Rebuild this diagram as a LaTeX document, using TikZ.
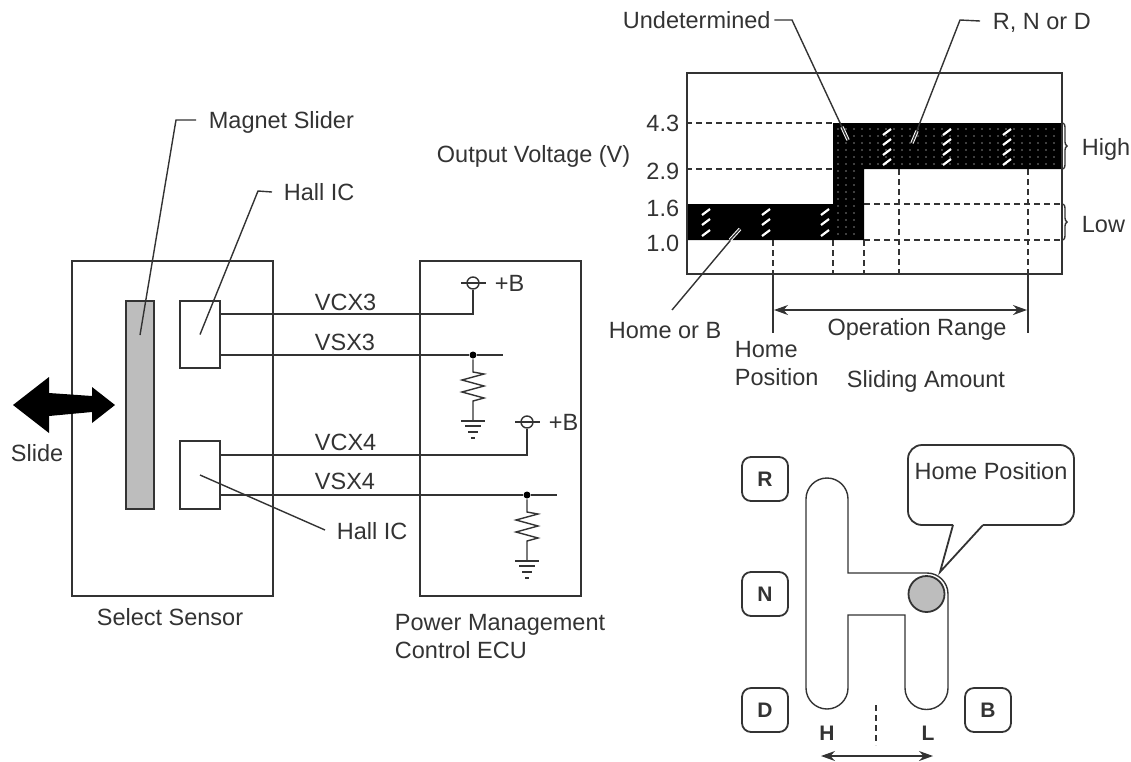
\documentclass[tikz,border=0pt]{standalone}
\usepackage{fontspec}
\setmainfont{Liberation Sans}
\usetikzlibrary{arrows.meta,positioning,decorations.pathreplacing}
\definecolor{inkgray}{gray}{0.2}
\definecolor{partgray}{gray}{0.74}

\begin{document}
\begin{tikzpicture}[-,>={Stealth[length=14pt,width=10pt]},x=1pt,y=-1pt,line width=1.8pt,color=inkgray,
  box/.style={draw,rectangle,inner sep=0pt},
  txt/.style={inner sep=0pt,text height=17pt,text depth=0pt,font=\fontsize{23.5}{28}\selectfont},
  thin line/.style={line width=1.4pt},
  key node/.style={draw,rectangle,rounded corners=9pt,inner sep=0pt,minimum width=46pt,minimum height=44pt,font=\fontsize{21}{24}\selectfont\bfseries},
  bold txt/.style={inner sep=0pt,font=\fontsize{21}{24}\selectfont\bfseries},
  dash line/.style={thin line,dashed,dash pattern=on 6pt off 4pt}]

  \useasboundingbox (0,0) rectangle (1131,761);

  \node[box, minimum width=201pt, minimum height=335pt] (sensor) at (172.5,428.5) {};
  \node[box, minimum width=161pt, minimum height=335pt] (ecu) at (500.5,428.5) {};
  \node[box, fill=partgray, minimum width=28pt, minimum height=208pt] (magnet) at (140,405) {};
  \node[box, minimum width=40pt, minimum height=67pt] (hall3) at (200,334.5) {};
  \node[box, minimum width=40pt, minimum height=68pt] (hall4) at (200,475) {};

  \fill[black] (13,405) -- (49,377) -- (49,393) -- (92,396) -- (92,387) -- (115,405) -- (92,423) -- (92,412) -- (49,416) -- (49,433) -- cycle;

  \node[txt, anchor=west] (slide) at (10,453) {Slide};
  \node[txt, anchor=west] (magnettxt) at (208,120) {Magnet Slider};
  \node[txt, anchor=west] (hall3txt) at (283,192) {Hall IC};
  \node[txt, anchor=west] (hall4txt) at (336,531) {Hall IC};
  \node[txt] (sensortxt) at (170,617) {Select Sensor};
  \node[txt, anchor=west] (ecutxt1) at (394,622) {Power Management};
  \node[txt, anchor=west] (ecutxt2) at (394,650) {Control ECU};
  \node[txt, anchor=west] (vcx3) at (314,302) {VCX3};
  \node[txt, anchor=west] (vsx3) at (314,342) {VSX3};
  \node[txt, anchor=west] (vcx4) at (314,442) {VCX4};
  \node[txt, anchor=west] (vsx4) at (314,481) {VSX4};

  \path (magnettxt.west) ++(-12,0) coordinate (m1)
    (hall3txt.west) ++(-11,0) coordinate (h1)
    (hall4txt.west) ++(-11,-1) coordinate (h2);
  \draw[thin line] (m1) -- (176,120) -- (magnet.center |- 0,335);
  \draw[thin line] (h1) -- (258,191) -- (hall3.center);
  \draw[thin line] (hall4.center) -- (h2);

  \node[circle,draw,thin line,inner sep=0pt,minimum size=12pt] (b3) at (473,283) {};
  \node[circle,draw,thin line,inner sep=0pt,minimum size=12pt] (b4) at (527,422) {};
  \node[txt, anchor=west] (b3txt) at (494,283) {+B};
  \node[txt, anchor=west] (b4txt) at (548,422) {+B};
  \draw[thin line] (461,283) -- (486,283);
  \draw[thin line] (515,422) -- (540,422);

  \node[fill=black,circle,inner sep=0pt,minimum size=7pt] (j3) at (473,355) {};
  \node[fill=black,circle,inner sep=0pt,minimum size=7pt] (j4) at (527,495) {};

  \draw[thin line] (hall3.east |- 0,314) -- (b3 |- 0,314) -- (b3.south);
  \draw[thin line] (hall3.east |- 0,355) -- (j3) -- (503,355);
  \draw[thin line] (hall4.east |- 0,455) -- (b4 |- 0,455) -- (b4.south);
  \draw[thin line] (hall4.east |- 0,495) -- (j4) -- (557,495);

  \foreach \j in {j3,j4} {
    \draw[thin line] (\j) -- ++(0,17) -- ++(11,2) -- ++(-22,6) -- ++(22,6) -- ++(-22,6) -- ++(22,6) -- ++(-11,3) -- ++(0,20);
    \draw[thin line] (\j) ++(-12,66) -- ++(24,0);
    \draw[thin line] (\j) ++(-8,71) -- ++(16,0);
    \draw[thin line] (\j) ++(-5,77) -- ++(10,0);
    \draw[thin line] (\j) ++(-2,83) -- ++(4,0);
  }

  \fill[black] (687,204) -- (833,204) -- (833,123) -- (1062,123) -- (1062,169) -- (864,169) -- (864,240) -- (687,240) -- cycle;
  \foreach \x in {838,846,...,1058} \foreach \y in {129,136,...,165}
    \fill[white,opacity=.5] (\x,\y) circle (.9pt);
  \foreach \x in {838,846,854} \foreach \y in {171,178,...,237}
    \fill[white,opacity=.5] (\x,\y) circle (.9pt);
  \foreach \x in {887,947,1007} \foreach \y in {132,142,152,162}
    \draw[white,line width=2.2pt] (\x-4,\y+3) -- (\x+4,\y-3);
  \foreach \x in {706,766,825} \foreach \y in {212,222,233}
    \draw[white,line width=2.2pt] (\x-4,\y+3) -- (\x+4,\y-3);

  \node[box, minimum width=375pt, minimum height=201pt] (chart) at (874.5,173.5) {};

  \draw[dash line] (chart.west |- 0,123) -- (833,123);
  \draw[dash line] (chart.west |- 0,169) -- (833,169);
  \draw[dash line] (864,204) -- (chart.east |- 0,204);
  \draw[dash line] (864,240) -- (chart.east |- 0,240);
  \foreach \x in {773,833,864}
    \draw[dash line] (\x,240) -- (\x,274);
  \foreach \x in {899,1028}
    \draw[dash line] (\x,169) -- (\x,274);

  \node[txt, anchor=east] (v43) at (680,123) {4.3};
  \node[txt, anchor=east] (v29) at (680,171) {2.9};
  \node[txt, anchor=east] (v16) at (680,208) {1.6};
  \node[txt, anchor=east] (v10) at (680,243) {1.0};
  \node[txt, anchor=west] (voltage) at (436,154) {Output Voltage (V)};
  \node[txt, anchor=west] (undet) at (622,20) {Undetermined};
  \node[txt, anchor=west] (rnd) at (992,21) {R, N or D};
  \node[txt, anchor=west] (homeb) at (608,330) {Home or B};
  \node[txt, anchor=west] (high) at (1081,147) {High};
  \node[txt, anchor=west] (low) at (1081,224) {Low};
  \node[txt] (range) at (917,327) {Operation Range};
  \node[txt, anchor=west] (home1) at (734,349) {Home};
  \node[txt, anchor=west] (home2) at (734,377) {Position};
  \node[txt] (amount) at (926,379) {Sliding Amount};

  \draw[thin line] (undet.east) ++(3,0) -- (792,20) -- (848,140);
  \draw[thin line] (rnd.west) ++(-12,0) -- (960,20) -- (912,143);
  \draw[thin line] (672,310) -- (740,229);
  \draw[white,line width=3.4pt] (842,127) -- (848,140);
  \draw[thin line] (842,127) -- (848,140);
  \draw[white,line width=3.4pt] (917,131) -- (912,143);
  \draw[thin line] (917,131) -- (912,143);
  \draw[white,line width=3.4pt] (730,240) -- (740,229);
  \draw[thin line] (730,240) -- (740,229);

  \draw[thin line, decorate, decoration={brace,amplitude=4pt}] (1063,123) -- (1063,169);
  \draw[thin line, decorate, decoration={brace,amplitude=4pt}] (1063,204) -- (1063,240);

  \draw[thin line] (773,274) -- (773,333);
  \draw[thin line] (1028,274) -- (1028,333);
  \draw[thin line, <->] (774,310) -- (1027,310);

  \draw[thin line] (806,499) arc[start angle=180,end angle=0,radius=21pt] -- (848,573) -- (927,573)
    arc[start angle=90,end angle=0,radius=21pt] -- (948,688)
    arc[start angle=0,end angle=-180,radius=21.5pt] -- (905,615) -- (848,615) -- (848,688)
    arc[start angle=0,end angle=-180,radius=21pt] -- cycle;
  \node[circle,draw,fill=partgray,inner sep=0pt,minimum size=36pt] (knob) at (926.5,594) {};

  \draw[rounded corners=14pt] (953,525) -- (908,525) -- (908,445) -- (1074,445) -- (1074,525) -- (983,525);
  \draw (983,525) -- (940,572) -- (953,525);
  \node[txt] (callout) at (991,471) {Home Position};

  \node[key node] (r) at (765,479) {R};
  \node[key node, node distance=115pt] (n) [below of=r] {N};
  \node[key node, node distance=116pt] (d) [below of=n] {D};
  \node[key node, node distance=223pt] (b) [right of=d] {B};
  \node[bold txt] (h) at (827,733) {H};
  \node[bold txt] (l) at (928,733) {L};
  \coordinate (hl1) at (821,756);
  \coordinate (hl2) at (933,756);
  \draw[thin line, <->] (hl1) -- (hl2);
  \draw[dash line] (876,705) -- (876,745);

\end{tikzpicture}
\end{document}
